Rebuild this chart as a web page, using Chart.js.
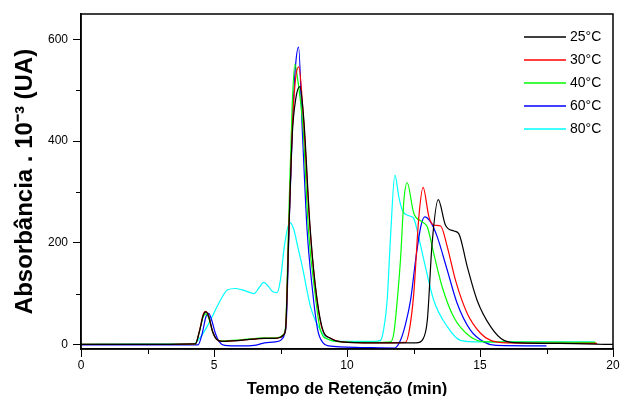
<!DOCTYPE html>
<html><head><meta charset="utf-8">
<script src="https://cdn.jsdelivr.net/npm/chart.js@4/dist/chart.umd.min.js"></script>
<style>html,body{margin:0;padding:0;background:#fff}</style>
</head><body>
<canvas id="c" width="621" height="396"></canvas>
<script>
// ---- data ----
const seriesLabels = ['25°C', '30°C', '40°C', '60°C', '80°C'];
const seriesColors = ['#000000', '#ff0000', '#00ff00', '#0000ff', '#00ffff'];
const xTickValues = [0, 5, 10, 15, 20];
const yTickValues = [0, 200, 400, 600];
const xMinorTicks = [2.5, 7.5, 12.5, 17.5];
const yMinorTicks = [100, 300, 500];

const x25 = [0, 2, 4.3, 4.45, 4.6, 4.7, 4.8, 4.95, 5.1, 5.3, 6.0, 6.9, 7.3, 7.5, 7.6, 7.69, 7.81, 7.94, 8.08, 8.23, 8.38, 8.6, 8.8, 9.07, 9.38, 9.8, 11, 12.6, 12.85, 13.02, 13.2, 13.43, 13.7, 14.02, 14.2, 14.52, 14.89, 15.4, 15.9, 16.5, 18, 20];
const y25 = [0, 0, 1, 25, 58, 64, 55, 25, 10, 6, 8, 12, 12, 14, 18, 30, 215, 410, 485, 507, 440, 240, 120, 32, 12, 5, 3, 3, 10, 48, 199, 285, 235, 223, 218, 153, 87, 35, 8, 3, 2, 0];

const x30 = [0, 2, 4.3, 4.45, 4.6, 4.68, 4.8, 4.95, 5.1, 5.3, 6.0, 6.9, 7.3, 7.5, 7.6, 7.69, 7.81, 7.94, 8.06, 8.19, 8.35, 8.6, 8.8, 9.07, 9.38, 9.8, 11, 12.2, 12.35, 12.51, 12.7, 12.86, 13.08, 13.26, 13.52, 13.77, 14.08, 14.52, 15.02, 15.4, 16, 19.4];
const y30 = [0, 0, 1, 26, 60, 65, 56, 25, 10, 6, 8, 12, 12, 14, 18, 30, 220, 420, 520, 546, 455, 235, 118, 30, 12, 5, 3, 4, 30, 100, 250, 309, 251, 235, 233, 192, 126, 61, 22, 8, 3, 2];

const x40 = [0, 2, 4.3, 4.45, 4.6, 4.7, 4.8, 4.95, 5.1, 5.3, 6.0, 6.9, 7.3, 7.5, 7.6, 7.69, 7.81, 7.94, 8.04, 8.15, 8.35, 8.55, 8.8, 9.0, 9.3, 9.8, 11, 11.64, 11.76, 11.89, 12.01, 12.14, 12.26, 12.51, 12.83, 13.02, 13.26, 13.58, 14.01, 14.64, 15.2, 19.35];
const y40 = [0, 0, 1, 25, 55, 60, 52, 24, 10, 7, 9, 13, 13, 15, 19, 35, 250, 470, 551, 520, 425, 225, 100, 28, 10, 5, 4, 5, 22, 87, 166, 284, 318, 258, 241, 231, 179, 113, 54, 15, 5, 4];

const x60 = [0, 2, 4.4, 4.55, 4.7, 4.8, 4.9, 5.05, 5.2, 5.4, 6.0, 6.5, 6.9, 7.3, 7.5, 7.65, 7.72, 7.83, 7.96, 8.06, 8.18, 8.32, 8.5, 8.69, 8.9, 9.1, 9.3, 10.5, 11.8, 12.01, 12.2, 12.39, 12.58, 12.77, 12.92, 13.14, 13.39, 13.77, 14.14, 14.64, 15.14, 15.6, 17.5];
const y60 = [-1, -1, -1, 20, 55, 61, 50, 22, 5, -2, -3, -2, 3, 5, 8, 20, 45, 245, 445, 545, 585, 421, 225, 113, 28, 3, -3, -6, -7, 8, 40, 87, 166, 231, 251, 241, 212, 146, 81, 28, 5, -2, -3];

const x80 = [0, 2, 4.23, 4.5, 4.74, 5.0, 5.25, 5.5, 5.81, 6.2, 6.5, 6.7, 6.87, 7.05, 7.2, 7.37, 7.5, 7.65, 7.85, 8.0, 8.15, 8.32, 8.63, 9.0, 9.38, 9.8, 11.0, 11.26, 11.38, 11.51, 11.64, 11.8, 11.95, 12.08, 12.39, 12.51, 12.7, 12.89, 13.26, 13.77, 14.27, 15, 19.3];
const y80 = [0, 1, 1, 15, 35, 62, 88, 107, 110, 105, 100, 112, 122, 114, 104, 102, 128, 195, 240, 226, 192, 153, 74, 28, 8, 6, 6, 8, 30, 87, 215, 333, 290, 264, 252, 248, 210, 166, 87, 35, 8, 5, 5];

const seriesX = [x25, x30, x40, x60, x80];
const seriesY = [y25, y30, y40, y60, y80];

// ---- chart ----
const FONT = "'Liberation Sans', Arial, sans-serif";

const datasets = seriesLabels.map((lab, i) => ({
  label: lab,
  data: seriesX[i].map((x, j) => ({x: x, y: seriesY[i][j]})),
  borderColor: seriesColors[i],
  backgroundColor: seriesColors[i],
  borderWidth: 1.2,
  pointRadius: 0,
  fill: false,
  cubicInterpolationMode: 'monotone'
}));

const framePlugin = {
  id: 'frame',
  afterDraw(chart) {
    const {ctx, chartArea: a, scales} = chart;
    ctx.save();
    ctx.strokeStyle = '#000';
    ctx.lineWidth = 1.5;
    ctx.strokeRect(a.left, a.top, a.right - a.left, a.bottom - a.top);
    // minor ticks
    ctx.lineWidth = 1;
    ctx.beginPath();
    xMinorTicks.forEach(v => {
      const px = Math.round(scales.x.getPixelForValue(v)) + 0.5;
      ctx.moveTo(px, a.bottom); ctx.lineTo(px, a.bottom + 5);
    });
    yMinorTicks.forEach(v => {
      const py = Math.round(scales.y.getPixelForValue(v)) + 0.5;
      ctx.moveTo(a.left - 5, py); ctx.lineTo(a.left, py);
    });
    ctx.stroke();
    // legend
    ctx.font = '14px ' + FONT;
    ctx.textBaseline = 'middle';
    ctx.textAlign = 'left';
    seriesLabels.forEach((lab, i) => {
      const y = 37 + i * 23;
      ctx.strokeStyle = seriesColors[i];
      ctx.lineWidth = 1.5;
      ctx.beginPath(); ctx.moveTo(524, y); ctx.lineTo(566, y); ctx.stroke();
      ctx.fillStyle = '#000';
      ctx.fillText(lab, 570, y);
    });
    ctx.restore();
  }
};

new Chart(document.getElementById('c'), {
  type: 'line',
  data: {datasets},
  plugins: [framePlugin],
  options: {
    responsive: false,
    animation: false,
    layout: {padding: {top: 14, right: 8, left: 0, bottom: 0}},
    plugins: {legend: {display: false}, tooltip: {enabled: false}},
    scales: {
      x: {
        type: 'linear', min: 0, max: 20,
        afterFit: s => { s.height = 47; },
        afterBuildTicks: s => { s.ticks = xTickValues.map(v => ({value: v})); },
        grid: {drawOnChartArea: false, tickLength: 8, color: '#000', lineWidth: 1},
        border: {color: '#000', width: 1.5},
        ticks: {color: '#000', font: {family: FONT, size: 12}, padding: 1, maxRotation: 0},
        title: {display: true, text: 'Tempo de Retenção (min)', color: '#000',
                font: {family: FONT, size: 16.5, weight: 'bold', lineHeight: 1}, padding: {top: 0, bottom: -2}}
      },
      y: {
        type: 'linear', min: -9, max: 650,
        afterFit: s => { s.width = 81; },
        afterBuildTicks: s => { s.ticks = yTickValues.map(v => ({value: v})); },
        grid: {drawOnChartArea: false, tickLength: 8, color: '#000', lineWidth: 1},
        border: {color: '#000', width: 1.5},
        ticks: {color: '#000', font: {family: FONT, size: 12}, padding: 5},
        title: {display: true, text: 'Absorbância . 10⁻³ (UA)', color: '#000',
                font: {family: FONT, size: 24, weight: 'bold', lineHeight: 1.2}, padding: {top: 11, bottom: 0}}
      }
    }
  }
});
</script>
</body></html>
